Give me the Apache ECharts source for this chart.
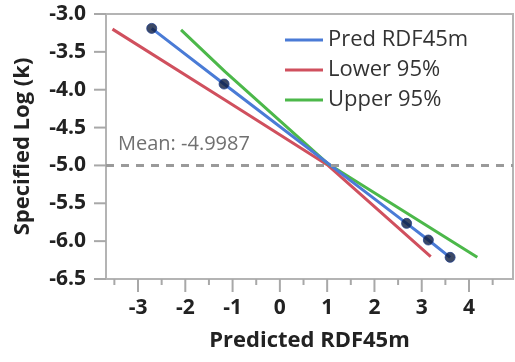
<!DOCTYPE html>
<html><head><meta charset="utf-8">
<script src="https://cdn.jsdelivr.net/npm/echarts@6/dist/echarts.min.js"></script>
<style>html,body{margin:0;padding:0;background:#fff}#c{width:515px;height:362px;background:#fff}</style>
</head><body><div id="c"></div>
<script>
const xTicks = [-3, -2, -1, 0, 1, 2, 3, 4];
const xMinorTicks = [-3.5, -2.5, -1.5, -0.5, 0.5, 1.5, 2.5, 3.5, 4.5];
const yTicks = [-6.5, -6.0, -5.5, -5.0, -4.5, -4.0, -3.5, -3.0];
const predX = [-2.71, -1.18, 2.68, 3.14, 3.60];
const predY = [-3.19, -3.925, -5.765, -5.985, -6.214];
const lowerX = [-3.54, -1.16, 1.0, 3.19];
const lowerY = [-3.20, -4.136, -4.99, -6.205];
const upperX = [-2.09, -1.16, 1.0, 4.175];
const upperY = [-3.21, -3.762, -4.97, -6.214];
const meanY = -4.9987;
const seriesNames = ['Pred RDF45m', 'Lower 95%', 'Upper 95%'];

const zip = (xs, ys) => xs.map((x, i) => [x, ys[i]]);
const blue = '#4a7bd6', red = '#d0505e', green = '#4cb84a';
const tickColor = '#a8a8a8';
const frameColor = '#b4b4b4';
const xMin = -3.677, xMax = 4.93, yMin = -6.5, yMax = -3.0;

function tickSeries(data, dx, dy) {
  return {
    type: 'custom', silent: true, clip: false, z: 5, data: data,
    renderItem: (params, api) => {
      const p = api.coord([api.value(0), api.value(1)]);
      return {type: 'line', shape: {x1: p[0], y1: p[1], x2: p[0] + dx, y2: p[1] + dy},
        style: {stroke: tickColor, lineWidth: 2}};
    }
  };
}

const chart = echarts.init(document.getElementById('c'));
chart.setOption({
  animation: false,
  grid: {left: 106, right: 2, top: 14, bottom: 83, show: true, borderColor: frameColor, borderWidth: 2},
  xAxis: {
    type: 'value', min: xMin, max: xMax,
    name: 'Predicted RDF45m', nameLocation: 'middle', nameGap: 51,
    nameTextStyle: {fontFamily: 'Open Sans', fontWeight: 'bold', fontSize: 22, color: '#222'},
    axisLine: {show: false, onZero: false},
    splitLine: {show: false},
    axisTick: {show: false},
    axisLabel: {show: true, customValues: xTicks, margin: 19, fontFamily: 'Open Sans', fontWeight: 'bold', fontSize: 21, color: '#222', formatter: v => String(v)}
  },
  yAxis: {
    type: 'value', min: yMin, max: yMax, interval: 0.5,
    name: 'Specified Log (k)', nameLocation: 'middle', nameGap: 72,
    nameTextStyle: {fontFamily: 'Open Sans', fontWeight: 'bold', fontSize: 22, color: '#222'},
    axisLine: {show: false, onZero: false},
    splitLine: {show: false},
    axisTick: {show: false},
    axisLabel: {margin: 20, fontFamily: 'Open Sans', fontWeight: 'bold', fontSize: 21, color: '#222', formatter: v => v.toFixed(1)}
  },
  legend: {
    orient: 'vertical', left: 285, top: 29, padding: 0,
    icon: 'rect', itemWidth: 38, itemHeight: 3, itemGap: 8,
    textStyle: {fontFamily: 'Open Sans', fontSize: 22, color: '#333'},
    data: seriesNames
  },
  series: [
    {
      name: seriesNames[1], type: 'line', data: zip(lowerX, lowerY), showSymbol: false,
      lineStyle: {color: red, width: 3}, itemStyle: {color: red}, z: 2
    },
    {
      name: seriesNames[2], type: 'line', data: zip(upperX, upperY), showSymbol: false,
      lineStyle: {color: green, width: 3}, itemStyle: {color: green}, z: 2
    },
    {
      name: seriesNames[0], type: 'line', data: zip(predX, predY), showSymbol: false,
      lineStyle: {color: blue, width: 3}, itemStyle: {color: blue}, z: 3,
      markLine: {
        silent: true, symbol: 'none',
        data: [{yAxis: meanY}],
        lineStyle: {color: '#9a9a9a', type: [8, 7], width: 3},
        label: {show: true, position: 'insideStartTop', distance: [12, 11],
          formatter: () => 'Mean: ' + meanY.toFixed(4),
          fontFamily: 'Open Sans', fontSize: 20, color: '#707070'}
      }
    },
    {
      name: 'points', type: 'scatter', data: zip(predX, predY), symbolSize: 10,
      itemStyle: {color: '#0d1b3e', borderColor: '#23408a', borderWidth: 1}, z: 4
    },
    tickSeries(xTicks.map(v => [v, yMin]), 0, 13),
    tickSeries(xMinorTicks.map(v => [v, yMin]), 0, 6),
    tickSeries(yTicks.map(v => [xMin, v]), -12, 0)
  ]
});
</script></body></html>
